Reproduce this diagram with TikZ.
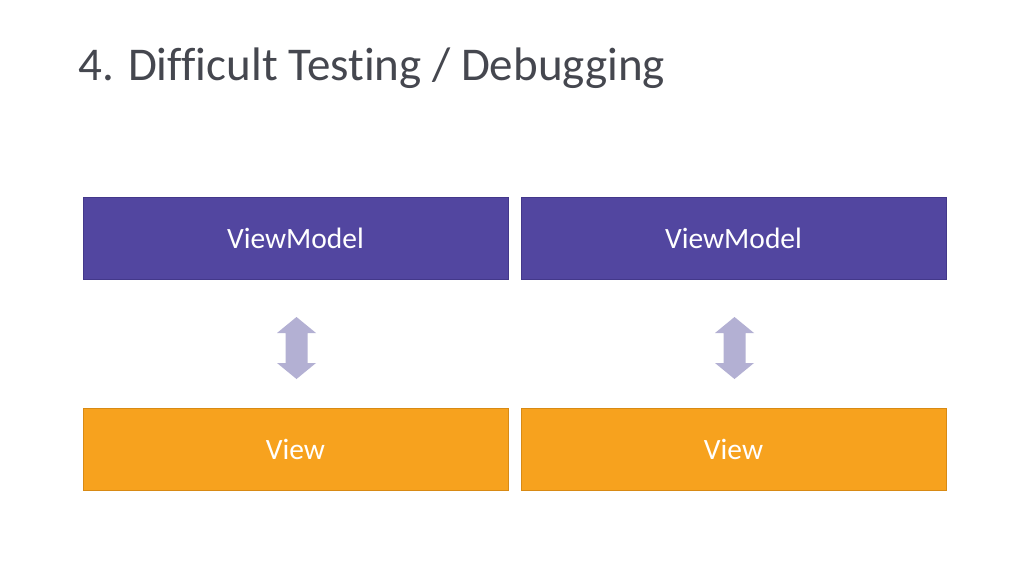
\documentclass[tikz,border=0pt]{standalone}
\usepackage{fontspec}
\setmainfont{Carlito}[Ligatures=NoCommon]
\definecolor{vmfill}{HTML}{5246A0}
\definecolor{vmdraw}{HTML}{43388A}
\definecolor{vfill}{HTML}{F7A21E}
\definecolor{vdraw}{HTML}{D88A14}
\definecolor{arrowc}{HTML}{B3B0D3}
\definecolor{titlec}{HTML}{45474F}
\begin{document}
\begin{tikzpicture}[x=1pt,y=-1pt,
  vmbox/.style={draw=vmdraw,fill=vmfill,line width=0.8pt,minimum width=425pt,minimum height=82pt,inner sep=0pt,text=white,font=\fontsize{29.5}{34}\selectfont},
  vbox/.style={draw=vdraw,fill=vfill,line width=0.8pt,minimum width=425pt,minimum height=82pt,inner sep=0pt,text=white,font=\fontsize{29.5}{34}\selectfont},
  dblarrow/.style={fill=arrowc,draw=none}]
\useasboundingbox (0,0) rectangle (1024,576);
\fill[white] (0,0) rectangle (1024,576);
\node[anchor=base west,text=titlec,font=\fontsize{47}{54}\selectfont,inner sep=0pt] (title) at (78,80) {4. Difficult Testing / Debugging};
\node[vmbox] (vm1) at (295.5,238) {ViewModel};
\node[vmbox] (vm2) at (733.5,238) {ViewModel};
\node[vbox] (v1) at (295.5,449) {View};
\node[vbox] (v2) at (733.5,449) {View};
\foreach \cx in {296.5,734.5}{
  \fill[dblarrow] (\cx,317) -- (\cx+19.5,333) -- (\cx+11,333) -- (\cx+11,363) -- (\cx+19.5,363) -- (\cx,379) -- (\cx-19.5,363) -- (\cx-11,363) -- (\cx-11,333) -- (\cx-19.5,333) -- cycle;
}
\end{tikzpicture}
\end{document}
